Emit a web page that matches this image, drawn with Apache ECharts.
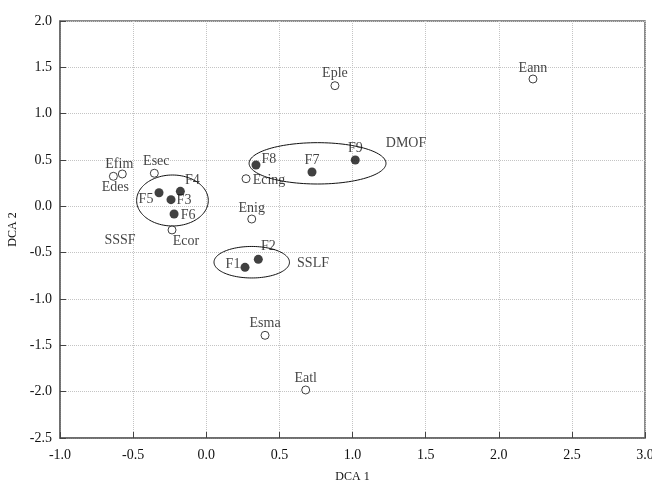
<!DOCTYPE html>
<html><head><meta charset="utf-8">
<script src="https://cdn.jsdelivr.net/npm/echarts@6/dist/echarts.min.js"></script>
<style>html,body{margin:0;padding:0;background:#fff}#c{width:652px;height:484px}</style>
</head><body><div id="c"></div>
<script>
// Species scores (open circles)
const speciesNames = ['Eann','Eple','Efim','Edes','Esec','Ecing','Enig','Ecor','Esma','Eatl'];
const speciesX = [2.234, 0.880, -0.574, -0.635, -0.355, 0.272, 0.311, -0.234, 0.402, 0.680];
const speciesY = [1.374, 1.302, 0.349, 0.324, 0.357, 0.298, -0.137, -0.255, -1.392, -1.982];
// Site scores (filled circles)
const siteNames = ['F1','F2','F3','F4','F5','F6','F7','F8','F9'];
const siteX = [0.265, 0.356, -0.241, -0.177, -0.323, -0.220, 0.723, 0.340, 1.019];
const siteY = [-0.658, -0.572, 0.072, 0.162, 0.147, -0.083, 0.371, 0.446, 0.500];
// Group ellipses (centre and radii in data units)
const groupNames = ['SSSF','DMOF','SSLF'];
const groupCx = [-0.231, 0.761, 0.311];
const groupCy = [0.063, 0.464, -0.603];
const groupRx = [0.245, 0.468, 0.258];
const groupRy = [0.275, 0.223, 0.170];
const groupLabelX = [-0.590, 1.366, 0.730];
const groupLabelY = [-0.363, 0.683, -0.611];
// Tick labels
const xTicks = ['-1.0','-0.5','0.0','0.5','1.0','1.5','2.0','2.5','3.0'];
const yTicks = ['-2.5','-2.0','-1.5','-1.0','-0.5','0.0','0.5','1.0','1.5','2.0'];

// label offsets (styling, px)
const labelOffset = {
  Eann:[0,-11], Eple:[0,-12], Efim:[-3,-10], Edes:[2,11], Esec:[2,-12],
  Ecing:[23,2], Enig:[0,-11], Ecor:[14,11], Esma:[0,-12], Eatl:[0,-12],
  F1:[-12,-3], F2:[10,-13], F3:[13,1], F4:[12,-11], F5:[-13,7], F6:[14,1],
  F7:[0,-12], F8:[13,-6], F9:[0,-12]
};
const FONT = 'Liberation Serif';

function pts(names, xs, ys) {
  return names.map((n, i) => ({
    name: n, value: [xs[i], ys[i]],
    label: { offset: labelOffset[n] || [0,0] }
  }));
}

const chart = echarts.init(document.getElementById('c'), null, {renderer:'canvas'});
const axisCommon = {
  type: 'value',
  interval: 0.5,
  axisLine: { show: true, onZero: false, lineStyle: { color: '#666', width: 1.5 } },
  axisTick: { show: true, inside: true, length: 6, lineStyle: { color: '#444', width: 1 } },
  splitLine: { show: true, lineStyle: { color: '#c4c4c4', type: 'dotted', width: 1 } },
  nameTextStyle: { fontFamily: FONT, fontSize: 12, color: '#111' },
};
chart.setOption({
  animation: false,
  backgroundColor: '#fff',
  grid: { left: 60, right: 7, top: 21, bottom: 46, outerBoundsMode: 'none', containLabel: false,
    show: true, borderColor: '#666', borderWidth: 1.5, backgroundColor: 'transparent' },
  xAxis: Object.assign({}, axisCommon, {
    min: -1, max: 3,
    name: 'DCA 1', nameLocation: 'middle', nameGap: 33,
    axisLabel: { fontFamily: FONT, fontSize: 14, color: '#111', margin: 10,
      formatter: v => xTicks[Math.round((v + 1) / 0.5)] }
  }),
  yAxis: Object.assign({}, axisCommon, {
    min: -2.5, max: 2,
    name: 'DCA 2', nameLocation: 'middle', nameGap: 35,
    axisLabel: { fontFamily: FONT, fontSize: 14, color: '#111', margin: 8,
      formatter: v => yTicks[Math.round((v + 2.5) / 0.5)] }
  }),
  series: [
    {
      type: 'custom',
      silent: true,
      data: groupNames.map((n, i) => [groupCx[i], groupCy[i], groupRx[i], groupRy[i]]),
      renderItem: function (params, api) {
        const cx = api.value(0), cy = api.value(1), rx = api.value(2), ry = api.value(3);
        const points = [];
        for (let k = 0; k < 120; k++) {
          const t = k / 120 * Math.PI * 2;
          points.push(api.coord([cx + rx * Math.cos(t), cy + ry * Math.sin(t)]));
        }
        return { type: 'polygon', shape: { points: points },
          style: { fill: 'none', stroke: '#111', lineWidth: 1 } };
      },
      z: 2
    },
    {
      type: 'scatter',
      data: groupNames.map((n, i) => ({ name: n, value: [groupLabelX[i], groupLabelY[i]] })),
      symbolSize: 0,
      label: { show: true, position: 'inside', formatter: '{b}', fontFamily: FONT, fontSize: 14, color: '#111' },
      z: 3
    },
    {
      type: 'scatter',
      data: pts(speciesNames, speciesX, speciesY),
      symbol: 'circle', symbolSize: 8,
      itemStyle: { color: '#fff', borderColor: '#111', borderWidth: 1 },
      label: { show: true, position: 'inside', formatter: '{b}', fontFamily: FONT, fontSize: 14, color: '#111' },
      z: 4
    },
    {
      type: 'scatter',
      data: pts(siteNames, siteX, siteY),
      symbol: 'circle', symbolSize: 9,
      itemStyle: { color: '#111' },
      label: { show: true, position: 'inside', formatter: '{b}', fontFamily: FONT, fontSize: 14, color: '#111' },
      z: 5
    }
  ]
});
</script></body></html>
